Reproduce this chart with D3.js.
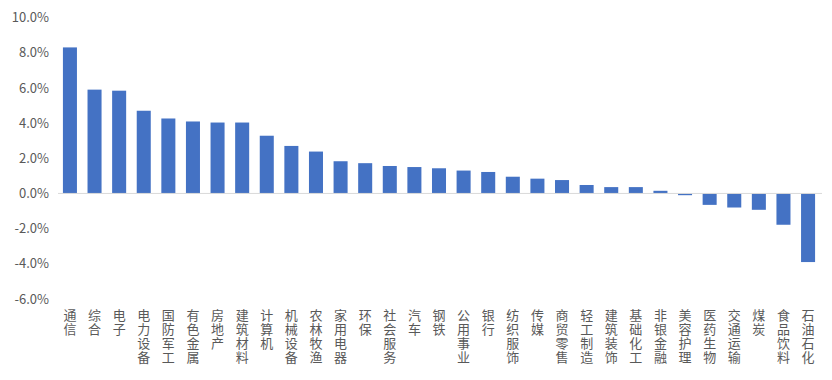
<!DOCTYPE html>
<html lang="zh">
<head>
    <meta charset="UTF-8">
    <title>行业涨跌幅</title>
    <style>
        body { margin: 0; background: #fff; }
    </style>
</head>
<body>
<script src="https://d3js.org/d3.v7.min.js"></script>
<script>
    // 行业名称
    const industries = ["通信", "综合", "电子", "电力设备", "国防军工", "有色金属", "房地产", "建筑材料", "计算机",
        "机械设备", "农林牧渔", "家用电器", "环保", "社会服务", "汽车", "钢铁", "公用事业", "银行", "纺织服饰", "传媒",
        "商贸零售", "轻工制造", "建筑装饰", "基础化工", "非银金融", "美容护理", "医药生物", "交通运输", "煤炭", "食品饮料", "石油石化"];

    // 涨跌幅 (%)
    const changes = [8.3, 5.9, 5.84, 4.7, 4.26, 4.09, 4.03, 4.03, 3.28,
        2.7, 2.38, 1.83, 1.72, 1.56, 1.5, 1.43, 1.3, 1.22, 0.95, 0.84,
        0.76, 0.48, 0.36, 0.36, 0.15, -0.1, -0.65, -0.8, -0.93, -1.78, -3.9];

    const yTicks = [-6, -4, -2, 0, 2, 4, 6, 8, 10];

    const data = industries.map((name, i) => ({name: name, value: changes[i]}));

    const width = 832, height = 380;
    const font = "'Noto Sans CJK SC', 'Noto Sans', sans-serif";

    const svg = d3.select("body").append("svg")
        .attr("width", width)
        .attr("height", height);

    const xScale = d3.scaleBand()
        .domain(industries)
        .range([58, 820])
        .paddingInner(0.43)
        .paddingOuter(0.2);

    const yScale = d3.scaleLinear()
        .domain([-6, 10])
        .range([299, 17.5]);

    // y axis labels (no line, no ticks)
    const yAxis = svg.append("g")
        .attr("transform", "translate(49,0)")
        .call(d3.axisLeft(yScale).tickValues(yTicks).tickSize(0).tickPadding(0)
            .tickFormat(d => d.toFixed(1) + "%"));
    yAxis.select(".domain").remove();
    yAxis.selectAll("text")
        .style("font", "13px " + font)
        .attr("fill", "#595959");

    // bars
    svg.selectAll(".bar")
        .data(data)
        .enter().append("rect")
        .attr("class", "bar")
        .attr("fill", "#4472C4")
        .attr("x", d => xScale(d.name))
        .attr("width", xScale.bandwidth())
        .attr("y", d => yScale(Math.max(0, d.value)))
        .attr("height", d => Math.abs(yScale(d.value) - yScale(0)));

    // zero line
    svg.append("line")
        .attr("x1", 58).attr("x2", 822)
        .attr("y1", yScale(0)).attr("y2", yScale(0))
        .attr("stroke", "#d9d9d9")
        .attr("stroke-width", 1);

    // vertical category labels, characters stacked top to bottom
    svg.selectAll(".label")
        .data(data)
        .enter().append("text")
        .attr("class", "label")
        .style("font", "13px " + font)
        .style("writing-mode", "vertical-rl")
        .style("text-orientation", "upright")
        .style("letter-spacing", "1px")
        .attr("fill", "#595959")
        .attr("x", d => xScale(d.name) + xScale.bandwidth() / 2)
        .attr("y", 309)
        .text(d => d.name);
</script>
</body>
</html>
